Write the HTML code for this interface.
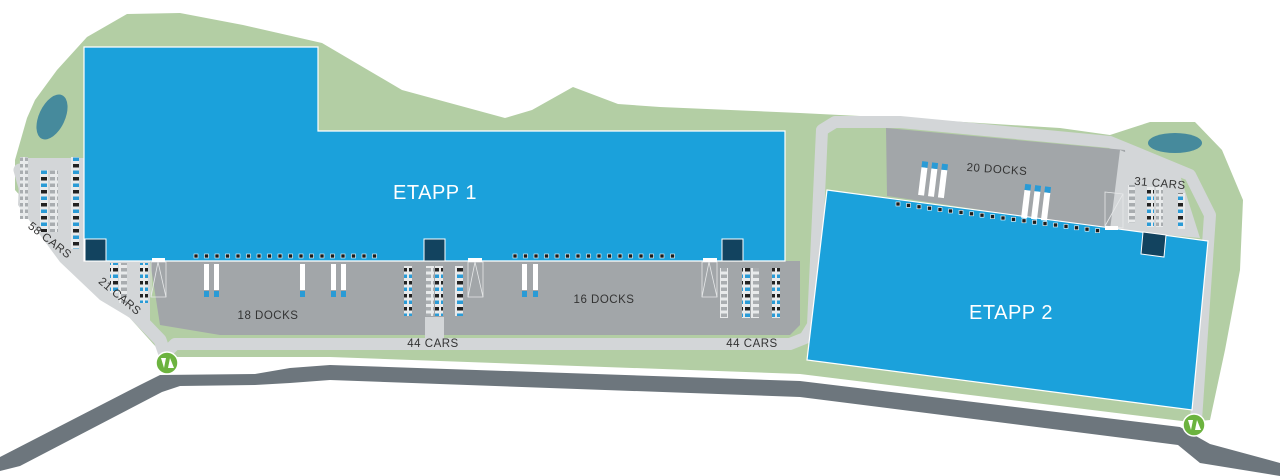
<!DOCTYPE html>
<html><head><meta charset="utf-8"><style>
html,body{margin:0;padding:0;background:#fff}
svg{display:block}
text{font-family:"Liberation Sans",sans-serif;fill:#333;font-size:11.5px;letter-spacing:0.5px}
</style></head><body>
<svg width="1280" height="476" viewBox="0 0 1280 476" xmlns="http://www.w3.org/2000/svg">
<defs>
<pattern id="park" width="8" height="6.5" patternUnits="userSpaceOnUse">
<rect width="8" height="6.5" fill="#e8eaeb"/>
<rect x="1" y="1.5" width="6" height="3.5" fill="#a9adb0"/>
</pattern>
<pattern id="park2" width="8" height="13" patternUnits="userSpaceOnUse">
<rect width="8" height="13" fill="#e8eaeb"/>
<rect x="1" y="1.5" width="6" height="3.5" fill="#2a9bd6"/>
<rect x="1" y="8" width="6" height="3.5" fill="#222"/>
</pattern>
</defs>
<polygon fill="#b3cea4" points="15,160 27,118 35,100 57,70 87,37 127,14 180,13 243,25 322,43 402,90 505,118 532,110 573,87 618,104 660,107 800,113 900,118 1060,128 1110,135 1150,122 1195,122 1222,150 1243,200 1240,270 1225,350 1210,420 1190,422 800,374 330,357 165,357 15,190"/>
<ellipse cx="52" cy="117" rx="13" ry="24" transform="rotate(25 52 117)" fill="#468a9c"/>
<ellipse cx="1175" cy="143" rx="27" ry="10" fill="#468a9c"/>
<polygon fill="#6d767d" points="0,457 140,385 160,375 255,374 290,368 330,365 800,381 1180,427 1210,444 1280,463 1280,476 1200,463 1178,445 800,397 330,380 290,383 255,385 180,386 162,392 20,466 0,471"/>
<g fill="none" stroke="#d3d6d8" stroke-linejoin="round" stroke-linecap="round">
<polyline stroke-width="13" points="20,170 30,205 160,340 167,360"/>
<polyline stroke-width="12" points="167,352 175,344 790,344 805,338 813,325 822,130 835,122 900,122 1110,142 1190,175 1210,215 1196,420 1192,428"/>
</g>
<polygon fill="#a2a6a9" points="886,128 1125,150 1130,232 887,196"/>
<polygon fill="#d3d6d8" points="1120,150 1180,175 1200,238 1110,230"/>
<polygon fill="#a2a6a9" points="150,261 800,261 800,325 790,335 220,335 160,325"/>
<polygon fill="#d3d6d8" points="100,261 150,261 150,330 100,300"/>
<polygon fill="#d3d6d8" points="20,158 84,158 84,261 100,261 100,300 60,262 18,205"/>
<polygon fill="#1ba1db" stroke="#fff" stroke-width="1.2" points="84,47 318,47 318,131 785,131 785,261 84,261"/>
<polygon fill="#1ba1db" stroke="#fff" stroke-width="1.2" points="827,190 1208,241 1192,410 807,360"/>
<g fill="#12435f" stroke="#fff" stroke-width="1">
<rect x="85" y="239" width="21" height="22"/>
<rect x="424" y="239" width="21" height="22"/>
<rect x="722" y="239" width="21" height="22"/>
<polygon points="1143,232 1166,235 1164,257 1141,254"/>
</g>
<g fill="#1c1c1c" stroke="#fff" stroke-width="0.6">
<rect x="194" y="254" width="4" height="4"/><rect x="204.5" y="254" width="4" height="4"/><rect x="215" y="254" width="4" height="4"/><rect x="225.5" y="254" width="4" height="4"/><rect x="236" y="254" width="4" height="4"/><rect x="246.5" y="254" width="4" height="4"/><rect x="257" y="254" width="4" height="4"/><rect x="267.5" y="254" width="4" height="4"/><rect x="278" y="254" width="4" height="4"/><rect x="288.5" y="254" width="4" height="4"/><rect x="299" y="254" width="4" height="4"/><rect x="309.5" y="254" width="4" height="4"/><rect x="320" y="254" width="4" height="4"/><rect x="330.5" y="254" width="4" height="4"/><rect x="341" y="254" width="4" height="4"/><rect x="351.5" y="254" width="4" height="4"/><rect x="362" y="254" width="4" height="4"/><rect x="372.5" y="254" width="4" height="4"/>
<rect x="513" y="254" width="4" height="4"/><rect x="523.5" y="254" width="4" height="4"/><rect x="534" y="254" width="4" height="4"/><rect x="544.5" y="254" width="4" height="4"/><rect x="555" y="254" width="4" height="4"/><rect x="565.5" y="254" width="4" height="4"/><rect x="576" y="254" width="4" height="4"/><rect x="586.5" y="254" width="4" height="4"/><rect x="597" y="254" width="4" height="4"/><rect x="607.5" y="254" width="4" height="4"/><rect x="618" y="254" width="4" height="4"/><rect x="628.5" y="254" width="4" height="4"/><rect x="639" y="254" width="4" height="4"/><rect x="649.5" y="254" width="4" height="4"/><rect x="660" y="254" width="4" height="4"/><rect x="670.5" y="254" width="4" height="4"/>
<rect x="896" y="202" width="4" height="4"/><rect x="906.5" y="203.4" width="4" height="4"/><rect x="917" y="204.8" width="4" height="4"/><rect x="927.5" y="206.2" width="4" height="4"/><rect x="938" y="207.6" width="4" height="4"/><rect x="948.5" y="209" width="4" height="4"/><rect x="959" y="210.4" width="4" height="4"/><rect x="969.5" y="211.8" width="4" height="4"/><rect x="980" y="213.2" width="4" height="4"/><rect x="990.5" y="214.6" width="4" height="4"/><rect x="1001" y="216" width="4" height="4"/><rect x="1011.5" y="217.4" width="4" height="4"/><rect x="1022" y="218.8" width="4" height="4"/><rect x="1032.5" y="220.2" width="4" height="4"/><rect x="1043" y="221.6" width="4" height="4"/><rect x="1053.5" y="223" width="4" height="4"/><rect x="1064" y="224.4" width="4" height="4"/><rect x="1074.5" y="225.8" width="4" height="4"/><rect x="1085" y="227.2" width="4" height="4"/><rect x="1095.5" y="228.6" width="4" height="4"/>
</g>
<g fill="#fff">
<rect x="204" y="264" width="5" height="26"/><rect x="214" y="264" width="5" height="26"/>
<rect x="300" y="264" width="5" height="26"/><rect x="331" y="264" width="5" height="26"/><rect x="341" y="264" width="5" height="26"/>
<rect x="522" y="264" width="5" height="26"/><rect x="533" y="264" width="5" height="26"/>
</g>
<g fill="#2a9bd6">
<rect x="204" y="291" width="5" height="6"/><rect x="214" y="291" width="5" height="6"/>
<rect x="300" y="291" width="5" height="6"/><rect x="331" y="291" width="5" height="6"/><rect x="341" y="291" width="5" height="6"/>
<rect x="522" y="291" width="5" height="6"/><rect x="533" y="291" width="5" height="6"/>
</g>
<g transform="rotate(7 960 190)">
<rect x="919" y="172" width="6" height="28" fill="#fff"/><rect x="929" y="172" width="6" height="28" fill="#fff"/><rect x="939" y="172" width="6" height="28" fill="#fff"/>
<rect x="919" y="166" width="6" height="6" fill="#2a9bd6"/><rect x="929" y="166" width="6" height="6" fill="#2a9bd6"/><rect x="939" y="166" width="6" height="6" fill="#2a9bd6"/>
<rect x="1024" y="182" width="6" height="28" fill="#fff"/><rect x="1034" y="182" width="6" height="28" fill="#fff"/><rect x="1044" y="182" width="6" height="28" fill="#fff"/>
<rect x="1024" y="176" width="6" height="6" fill="#2a9bd6"/><rect x="1034" y="176" width="6" height="6" fill="#2a9bd6"/><rect x="1044" y="176" width="6" height="6" fill="#2a9bd6"/>
</g>
<g fill="none" stroke="#e6e8e9" stroke-width="0.8">
<polygon points="151,262 166,262 166,297 151,297"/><polyline points="151,297 158,262 166,297"/>
<polygon points="468,262 483,262 483,297 468,297"/><polyline points="468,297 475,262 483,297"/>
<polygon points="702,262 717,262 717,297 702,297"/><polyline points="702,297 709,262 717,297"/>
<polygon points="1105,192 1123,194 1123,228 1105,226"/><polyline points="1105,226 1123,194"/>
</g>
<g fill="#fff"><rect x="152" y="258" width="13" height="4"/><rect x="468" y="258" width="14" height="4"/><rect x="703" y="258" width="14" height="4"/><rect x="1105" y="226" width="13" height="4"/></g>
<g>
<rect x="20" y="157" width="8" height="62" fill="url(#park)"/>
<rect x="40" y="170" width="8" height="62" fill="url(#park2)"/>
<rect x="50" y="170" width="8" height="62" fill="url(#park)"/>
<rect x="71" y="157" width="8" height="92" fill="url(#park2)"/>
<rect x="110" y="263" width="8" height="30" fill="url(#park2)"/>
<rect x="119" y="263" width="8" height="40" fill="url(#park)"/>
<rect x="140" y="263" width="8" height="40" fill="url(#park2)"/>
<rect x="404" y="266" width="8" height="50" fill="url(#park2)"/>
<rect x="426" y="266" width="8" height="50" fill="url(#park)"/>
<rect x="435" y="266" width="8" height="50" fill="url(#park2)"/>
<rect x="455" y="266" width="8" height="50" fill="url(#park2)"/>
<rect x="720" y="268" width="8" height="50" fill="url(#park)"/>
<rect x="742" y="268" width="8" height="50" fill="url(#park2)"/>
<rect x="751" y="268" width="8" height="50" fill="url(#park)"/>
<rect x="772" y="268" width="8" height="50" fill="url(#park2)"/>
<rect x="1128" y="185" width="7" height="38" fill="url(#park)"/>
<rect x="1147" y="187" width="7" height="40" fill="url(#park2)"/>
<rect x="1156" y="187" width="7" height="40" fill="url(#park)"/>
<rect x="1178" y="193" width="7" height="36" fill="url(#park2)"/>
</g>
<polygon fill="#d3d6d8" points="425,317 444,317 444,340 425,340"/>
<g>
<circle cx="167" cy="363" r="11" fill="#6cb33f" stroke="#fff" stroke-width="1.5"/>
<path d="M161,358 L166,358 L164,368 Z M168,368 L170,358 L174,368 Z" fill="#fff"/>
<circle cx="1194" cy="425" r="11" fill="#6cb33f" stroke="#fff" stroke-width="1.5"/>
<path d="M1188,420 L1193,420 L1191,430 Z M1195,430 L1197,420 L1201,430 Z" fill="#fff"/>
</g>
<text x="435" y="199" text-anchor="middle" style="font-size:20px;fill:#fff;letter-spacing:0.5px">ETAPP 1</text>
<text x="1011" y="319" text-anchor="middle" style="font-size:20px;fill:#fff;letter-spacing:0.5px">ETAPP 2</text>
<text x="268" y="319" text-anchor="middle">18 DOCKS</text>
<text x="604" y="303" text-anchor="middle">16 DOCKS</text>
<text x="433" y="347" text-anchor="middle">44 CARS</text>
<text x="752" y="347" text-anchor="middle">44 CARS</text>
<text x="997" y="173" text-anchor="middle" transform="rotate(4 997 169)">20 DOCKS</text>
<text x="1160" y="187" text-anchor="middle" transform="rotate(5 1160 183)">31 CARS</text>
<text x="50" y="244" text-anchor="middle" transform="rotate(38 50 240)">58 CARS</text>
<text x="120" y="300" text-anchor="middle" transform="rotate(40 120 296)">21 CARS</text>
</svg>
</body></html>
